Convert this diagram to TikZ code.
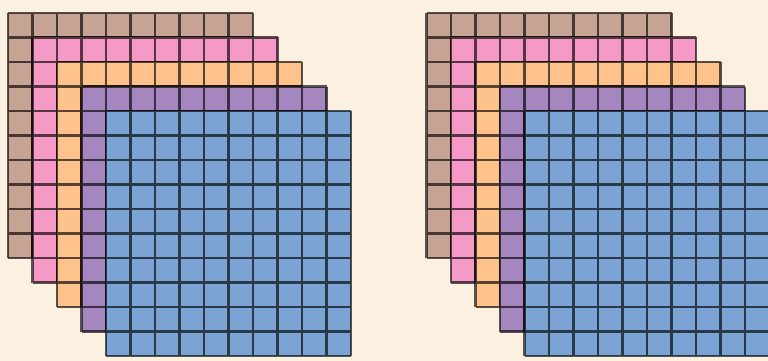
\documentclass[tikz,border=0pt]{standalone}
\definecolor{bg}{HTML}{FCF0E1}
\definecolor{cbrown}{HTML}{C6A393}
\definecolor{cpink}{HTML}{F599C6}
\definecolor{corange}{HTML}{FFC28A}
\definecolor{cpurple}{HTML}{A686BF}
\definecolor{cblue}{HTML}{7BA4D4}
\begin{document}
\begin{tikzpicture}[x=1pt,y=-1pt,
  gridline/.style={draw=black, line width=2.3pt, draw opacity=0.65}]
\useasboundingbox (0,0) rectangle (768,361);
\clip (0,0) rectangle (768,361);
\fill[bg] (0,0) rectangle (768,361);
\foreach \gx in {8,426.5}{
  \foreach \k/\c in {0/cbrown,1/cpink,2/corange,3/cpurple,4/cblue}{
    \begin{scope}[shift={(\gx+24.5*\k,13+24.5*\k)}]
      \fill[\c] (0,0) rectangle (245,245);
      \draw[gridline] \foreach \i in {0,...,10}{(24.5*\i,0) -- (24.5*\i,245) (0,24.5*\i) -- (245,24.5*\i)};
    \end{scope}
  }
}
\end{tikzpicture}
\end{document}
